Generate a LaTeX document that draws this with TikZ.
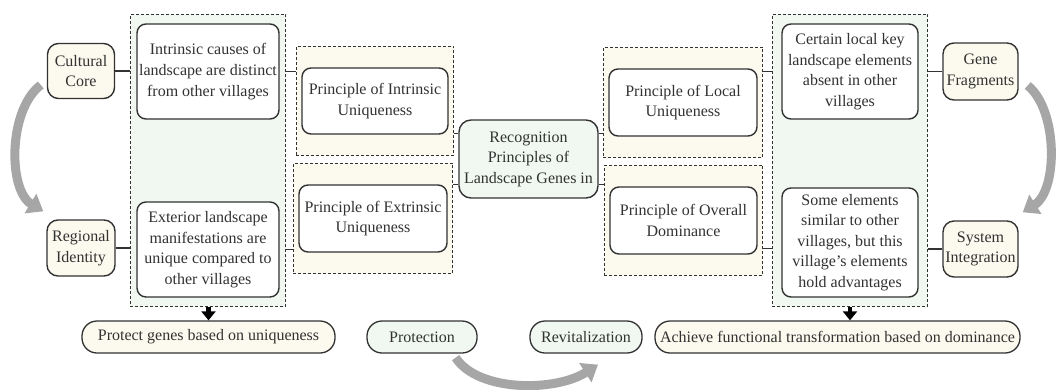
\documentclass[tikz,border=0pt]{standalone}
\usepackage{fontspec}
\setmainfont{Liberation Serif}
\usetikzlibrary{fit,arrows.meta}
\definecolor{cream}{RGB}{252,250,238}
\definecolor{mint}{RGB}{241,248,241}
\definecolor{ink}{RGB}{50,50,50}
\tikzset{%
box/.style={draw=ink,line width=1.4pt,rounded corners=9pt,fill=white,align=center,inner sep=1pt},
tag/.style={box,fill=cream,rounded corners=11pt},
hub/.style={box,fill=mint,rounded corners=12pt},
pill/.style={draw=ink,line width=1.3pt,rounded corners=15pt,minimum height=32pt,inner xsep=4pt},
grp/.style={draw=ink,densely dashed,line width=0.8pt},
link/.style={draw=ink,line width=1.2pt},
down/.style={black,line width=4.5pt,-{Triangle[length=9pt,width=14pt]}},
cyc/.style={gray!70,line width=9pt,-{Triangle[length=15pt,width=22pt]}}
}
\pgfdeclarelayer{background}
\pgfsetlayers{background,main}

\begin{document}
\begin{tikzpicture}[x=1pt,y=-1pt,
                    every node/.append style={font=\fontsize{16}{20.6}\selectfont,text=ink}]
\useasboundingbox (0,0) rectangle (1056,389);
%% left side
\node[tag,minimum width=67pt,minimum height=55pt] (CulCore) at (81,71)  {Cultural\\Core};
\node[tag,minimum width=68pt,minimum height=56pt] (RegId)   at (81,248) {Regional\\Identity};
\node[box,minimum width=142pt,minimum height=95pt] (Intr)  at (208,71.5)
     {Intrinsic causes of\\landscape are distinct\\from other villages};
\node[box,minimum width=142pt,minimum height=95pt] (Exter) at (208,249.5)
     {Exterior landscape\\manifestations are\\unique compared to\\other villages};
%% principles
\node[box,minimum width=146pt,minimum height=66pt] (PInt) at (375,101)   {Principle of Intrinsic\\Uniqueness};
\node[box,minimum width=148pt,minimum height=67pt] (PExt) at (373,218.5) {Principle of Extrinsic\\Uniqueness};
\node[hub,minimum width=139pt,minimum height=78pt] (Recog) at (528.5,159)
     {Recognition\\Principles of\\Landscape Genes in};
\node[box,minimum width=148pt,minimum height=67pt] (PLoc) at (683,102.5)   {Principle of Local\\Uniqueness};
\node[box,minimum width=147pt,minimum height=67pt] (POvr) at (683.5,220.5) {Principle of Overall\\Dominance};
%% right side
\node[box,minimum width=136pt,minimum height=95pt]  (Cert) at (850,71.5)
     {Certain local key\\landscape elements\\absent in other\\villages};
\node[box,minimum width=136pt,minimum height=109pt] (Some) at (850,242.5)
     {Some elements\\similar to other\\villages, but this\\village’s elements\\hold advantages};
\node[tag,minimum width=75pt,minimum height=57pt] (Gene)   at (980.5,71.5) {Gene\\Fragments};
\node[tag,minimum width=75pt,minimum height=56pt] (SysInt) at (980.5,249)  {System\\Integration};
%% bottom row
\node[pill,fill=cream,minimum width=253pt] (Protect) at (208.5,337) {Protect genes based on uniqueness};
\node[pill,fill=mint,minimum width=110pt]  (Prot)    at (422,337)   {Protection};
\node[pill,fill=mint,minimum width=112pt]  (Revit)   at (586,337)   {Revitalization};
\node[pill,fill=cream,minimum width=365pt] (Achieve) at (837.5,337) {Achieve functional transformation based on dominance};
%%%%%%%%%%%%%%
\begin{pgfonlayer}{background}
\node[grp,fill=mint,fit=(Intr)(Exter),inner xsep=6pt,inner ysep=9pt] (LeftGrp) {};
\node[grp,fill=mint,fit=(Cert)(Some),inner xsep=9pt,inner ysep=9pt]  (RightGrp) {};
\node[grp,fill=cream,fit=(PInt),inner xsep=5pt,inner ysep=21pt] (PIntGrp) {};
\node[grp,fill=cream,fit=(PExt),inner xsep=5pt,inner ysep=21pt] (PExtGrp) {};
\node[grp,fill=cream,fit=(PLoc),inner xsep=5pt,inner ysep=21pt] (PLocGrp) {};
\node[grp,fill=cream,fit=(POvr),inner xsep=5pt,inner ysep=21pt] (POvrGrp) {};
\end{pgfonlayer}
%%
\draw[link] (CulCore.east) -- (CulCore.east -| LeftGrp.west);
\draw[link] (RegId.east)   -- (RegId.east -| LeftGrp.west);
\draw[link] (Intr.east -| LeftGrp.east)  -- (Intr.east -| PIntGrp.west);
\draw[link] (Exter.east -| LeftGrp.east) -- (Exter.east -| PExtGrp.west);
\draw[link] (Recog.160) -- (Recog.160 -| PIntGrp.east);
\draw[link] (Recog.200) -- (Recog.200 -| PExtGrp.east);
\draw[link] (Recog.20)  -- (Recog.20 -| PLocGrp.west);
\draw[link] (Recog.-20) -- (Recog.-20 -| POvrGrp.west);
\draw[link] (Cert.west -| PLocGrp.east) -- (Cert.west -| RightGrp.west);
\draw[link] ([yshift=-6pt]Some.west -| POvrGrp.east) -- ([yshift=-6pt]Some.west -| RightGrp.west);
\draw[link] (Gene.west)   -- (Gene.west -| RightGrp.east);
\draw[link] (SysInt.west) -- (SysInt.west -| RightGrp.east);
%%
\draw[down] (LeftGrp.south -| Protect) -- (Protect.north);
\draw[down] (RightGrp.south) -- (RightGrp.south |- Achieve.north);
%%
\draw[cyc] ([xshift=-6pt,yshift=-14pt]CulCore.west) .. controls (8,110) and (8,190) .. ([xshift=-3pt,yshift=8pt]RegId.north west);
\draw[cyc] ([xshift=9pt,yshift=-14pt]Gene.east) .. controls (1058,110) and (1058,190) .. ([xshift=4pt,yshift=8pt]SysInt.north east);
\draw[cyc] ([xshift=-22pt,yshift=-4pt]Prot.south east) .. controls (478,392) and (555,392) .. ([xshift=12pt,yshift=-11pt]Revit.south);
\end{tikzpicture}
\end{document}
